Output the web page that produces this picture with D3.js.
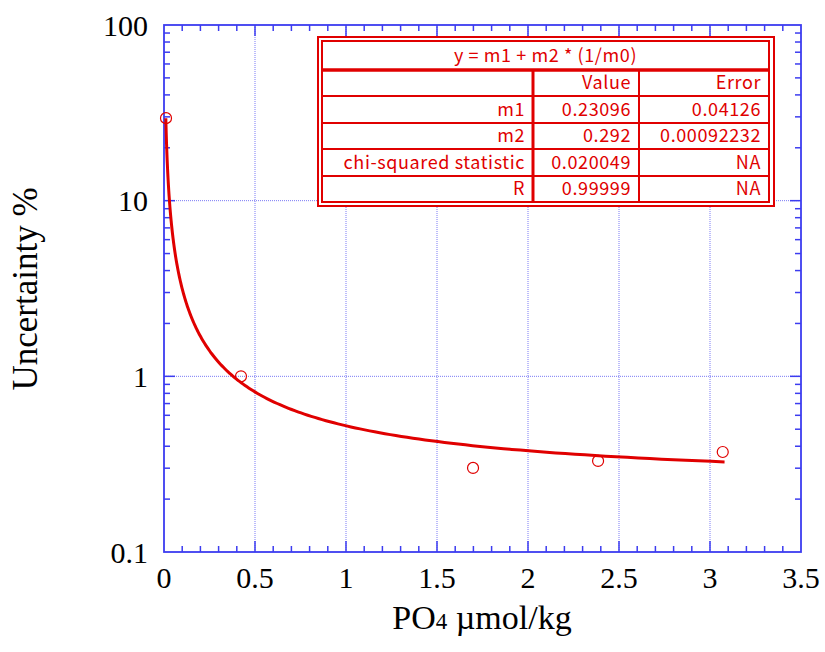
<!DOCTYPE html>
<html>
<head>
<meta charset="utf-8">
<script src="https://cdn.jsdelivr.net/npm/d3@7/dist/d3.min.js"></script>
<style>
  html, body { margin: 0; padding: 0; background: #fff; }
  svg { display: block; }
</style>
</head>
<body>
<svg id="chart" width="825" height="652"></svg>
<script>
// Measured PO4 concentration (µmol/kg) and relative uncertainty (%)
const po4 = [0.011, 0.423, 1.698, 2.385, 3.07];
const uncertainty = [29.5, 1.0, 0.301, 0.330, 0.371];

// Fit y = m1 + m2 * (1/m0) and its statistics
const fitEquation = "y = m1 + m2 * (1/m0)";
const fitHeader = ["", "Value", "Error"];
const fitNames = ["m1", "m2", "chi-squared statistic", "R"];
const fitValues = ["0.23096", "0.292", "0.020049", "0.99999"];
const fitErrors = ["0.04126", "0.00092232", "NA", "NA"];
const fitRange = [0.01, 3.08];

// Axis ticks
const xTicks = [0, 0.5, 1, 1.5, 2, 2.5, 3, 3.5];
const xTickLabels = ["0", "0.5", "1", "1.5", "2", "2.5", "3", "3.5"];
const yTicks = [0.1, 1, 10, 100];
const yTickLabels = ["0.1", "1", "10", "100"];

const m1 = +fitValues[0];
const m2 = +fitValues[1];

const svg = d3.select("#chart");
const plot = { left: 164, top: 25, right: 801, bottom: 552 };

const x = d3.scaleLinear().domain([0, 3.5]).range([plot.left, plot.right]);
const y = d3.scaleLog().domain([0.1, 100]).range([plot.bottom, plot.top]);

const blue = "#3c3cf0";
const red = "#e00000";
const serif = "'Liberation Serif', 'Times New Roman', serif";

// Dotted grid at the major ticks
const grid = svg.append("g");
grid.selectAll("line.gx")
  .data(xTicks.filter(v => v > 0 && v < 3.5))
  .join("line")
  .attr("x1", d => x(d)).attr("x2", d => x(d))
  .attr("y1", plot.top).attr("y2", plot.bottom)
  .attr("stroke", "#7a7af5").attr("stroke-width", 1)
  .attr("stroke-dasharray", "1,1");
grid.selectAll("line.gy")
  .data(yTicks.filter(v => v > 0.1 && v < 100))
  .join("line")
  .attr("x1", plot.left).attr("x2", plot.right)
  .attr("y1", d => y(d)).attr("y2", d => y(d))
  .attr("stroke", "#7a7af5").attr("stroke-width", 1)
  .attr("stroke-dasharray", "1,1");

// Inward ticks on all four sides
const xMinor = d3.range(1, 35).map(i => i / 10).filter(v => Math.abs(v * 2 - Math.round(v * 2)) > 1e-6);
const xMajor = xTicks.filter(v => v > 0 && v < 3.5);
const yMinor = [];
[0.1, 1, 10].forEach(dec => { for (let k = 2; k <= 9; k++) yMinor.push(dec * k); });
const yMajor = [1, 10];

const ticks = svg.append("g").attr("stroke", blue).attr("stroke-width", 1.5);
function xTickLines(vals, len) {
  vals.forEach(v => {
    ticks.append("line").attr("x1", x(v)).attr("x2", x(v))
      .attr("y1", plot.bottom).attr("y2", plot.bottom - len);
    ticks.append("line").attr("x1", x(v)).attr("x2", x(v))
      .attr("y1", plot.top).attr("y2", plot.top + len);
  });
}
function yTickLines(vals, len) {
  vals.forEach(v => {
    ticks.append("line").attr("y1", y(v)).attr("y2", y(v))
      .attr("x1", plot.left).attr("x2", plot.left + len);
    ticks.append("line").attr("y1", y(v)).attr("y2", y(v))
      .attr("x1", plot.right).attr("x2", plot.right - len);
  });
}
xTickLines(xMinor, 6);
xTickLines(xMajor, 11);
yTickLines(yMinor, 6);
yTickLines(yMajor, 11);

// Frame
svg.append("rect")
  .attr("x", plot.left).attr("y", plot.top)
  .attr("width", plot.right - plot.left).attr("height", plot.bottom - plot.top)
  .attr("fill", "none").attr("stroke", blue).attr("stroke-width", 1.8);

// Tick labels
svg.append("g").selectAll("text")
  .data(xTicks)
  .join("text")
  .attr("x", d => x(d)).attr("y", 588)
  .attr("text-anchor", "middle")
  .attr("font-family", serif).attr("font-size", 30)
  .text((d, i) => xTickLabels[i]);
svg.append("g").selectAll("text")
  .data(yTicks)
  .join("text")
  .attr("x", 148).attr("y", d => y(d))
  .attr("dy", "0.35em")
  .attr("text-anchor", "end")
  .attr("font-family", serif).attr("font-size", 30)
  .text((d, i) => yTickLabels[i]);

// Axis titles
const xt = svg.append("text")
  .attr("x", 482).attr("y", 629)
  .attr("text-anchor", "middle")
  .attr("font-family", serif).attr("font-size", 34);
xt.append("tspan").text("PO");
xt.append("tspan").attr("font-size", 23).text("4");
xt.append("tspan").text(" \u00b5mol/kg");

svg.append("text")
  .attr("transform", "translate(37,289) rotate(-90)")
  .attr("text-anchor", "middle")
  .attr("font-family", serif).attr("font-size", 35)
  .text("Uncertainty %");

// Fitted curve from the tabulated parameters
const fitX = d3.range(0, 241).map(i => fitRange[0] * Math.pow(fitRange[1] / fitRange[0], i / 240));
const line = d3.line().x(d => x(d)).y(d => y(m1 + m2 / d));
svg.append("path")
  .datum(fitX)
  .attr("d", line)
  .attr("fill", "none").attr("stroke", red).attr("stroke-width", 3)
  .attr("stroke-linejoin", "round");

// Measured points
svg.append("g").selectAll("circle")
  .data(po4)
  .join("circle")
  .attr("cx", d => x(d)).attr("cy", (d, i) => y(uncertainty[i]))
  .attr("r", 5.5)
  .attr("fill", "none").attr("stroke", red).attr("stroke-width", 1.2);

// Fit results table
const tbl = { x0: 318, y0: 37, x1: 774, y1: 206 };
const inner = { x0: 322, y0: 41, x1: 769, y1: 202 };
const colX = [inner.x0, 533, 639, inner.x1];
const rowY = [inner.y0, 70, 96, 123, 149, 176, inner.y1];
const sans = "'Noto Sans CJK JP', 'Noto Sans', sans-serif";
const t = svg.append("g");
t.append("rect")
  .attr("x", tbl.x0).attr("y", tbl.y0)
  .attr("width", tbl.x1 - tbl.x0).attr("height", tbl.y1 - tbl.y0)
  .attr("fill", "#fff").attr("stroke", red).attr("stroke-width", 2);
t.append("rect")
  .attr("x", inner.x0).attr("y", inner.y0)
  .attr("width", inner.x1 - inner.x0).attr("height", inner.y1 - inner.y0)
  .attr("fill", "none").attr("stroke", red).attr("stroke-width", 2);
// row separators
rowY.slice(1, -1).forEach((yy, i) => {
  t.append("line").attr("x1", inner.x0).attr("x2", inner.x1)
    .attr("y1", yy).attr("y2", yy)
    .attr("stroke", red).attr("stroke-width", i === 0 ? 3.5 : 1.8);
});
// column separators (below the title row)
colX.slice(1, -1).forEach((xx, i) => {
  t.append("line").attr("x1", xx).attr("x2", xx)
    .attr("y1", rowY[1]).attr("y2", inner.y1)
    .attr("stroke", red).attr("stroke-width", i === 0 ? 3 : 2);
});
t.append("text")
  .attr("x", (inner.x0 + inner.x1) / 2).attr("y", (rowY[0] + rowY[1]) / 2)
  .attr("dy", "0.36em").attr("text-anchor", "middle")
  .attr("font-family", sans).attr("font-size", 18).attr("fill", red)
  .attr("letter-spacing", 0.6)
  .text(fitEquation);
const rows = [fitHeader].concat(fitNames.map((n, i) => [n, fitValues[i], fitErrors[i]]));
rows.forEach((r, ri) => {
  r.forEach((cell, ci) => {
    if (!cell) return;
    t.append("text")
      .attr("x", colX[ci + 1] - 8)
      .attr("y", (rowY[ri + 1] + rowY[ri + 2]) / 2)
      .attr("dy", "0.36em").attr("text-anchor", "end")
      .attr("font-family", sans).attr("font-size", 18).attr("fill", red)
      .attr("letter-spacing", 0.6)
      .text(cell);
  });
});
</script>
</body>
</html>
